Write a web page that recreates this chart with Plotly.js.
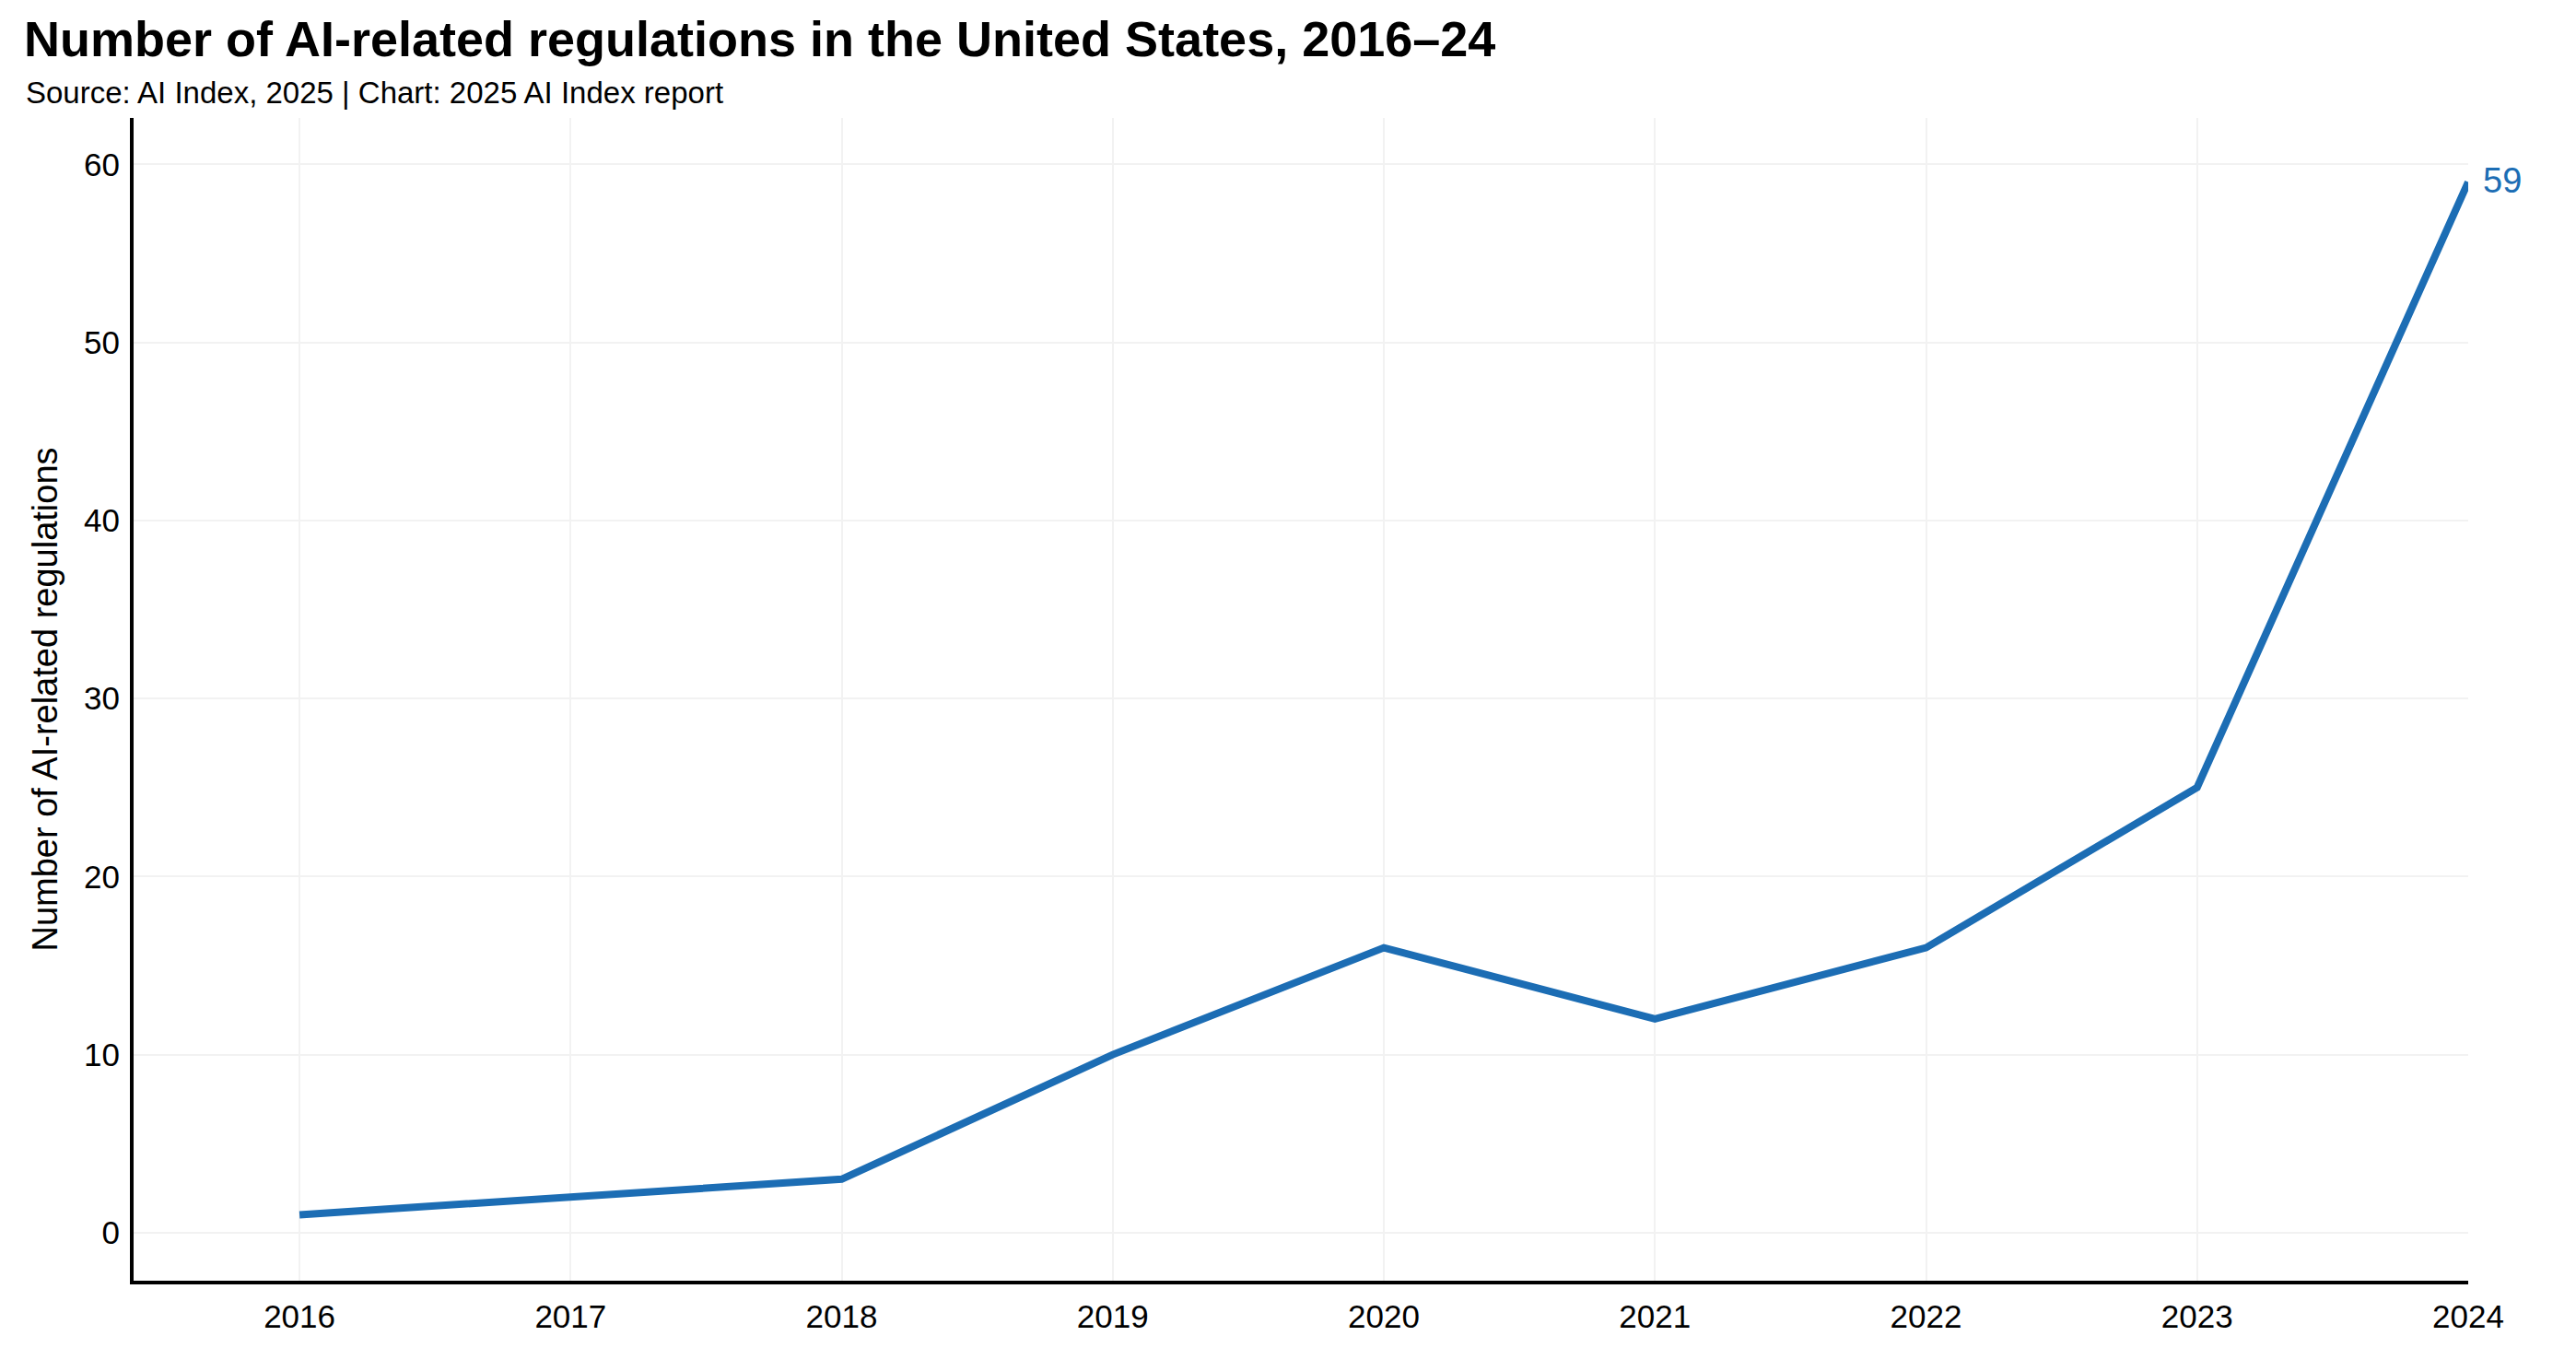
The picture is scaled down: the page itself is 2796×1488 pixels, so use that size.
<!DOCTYPE html>
<html>
<head>
<meta charset="utf-8">
<script src="https://cdn.plot.ly/plotly-3.0.1.min.js"></script>
<style>html,body{margin:0;padding:0;background:#fff;}#chart{width:2796px;height:1488px;}</style>
</head>
<body>
<div id="chart"></div>
<script>
const years = [2016, 2017, 2018, 2019, 2020, 2021, 2022, 2023, 2024];
const regulations = [1, 2, 3, 10, 16, 12, 16, 25, 59];
const yTicks = [0, 10, 20, 30, 40, 50, 60];
const titleText = "Number of AI-related regulations in the United States, 2016–24";
const subtitleText = "Source: AI Index, 2025 | Chart: 2025 AI Index report";
const yTitle = "Number of AI-related regulations";

const FONT = "Liberation Sans, Arial, sans-serif";
const BLUE = "#1c6db4";
const last = years.length - 1;

const W = 2796, H = 1488;
const M = {l: 145, r: 117, t: 128, b: 98};
const plotW = W - M.l - M.r, plotH = H - M.t - M.b;

const trace = {
  x: years, y: regulations, type: "scatter", mode: "lines",
  line: {color: BLUE, width: 8},
  hoverinfo: "skip", showlegend: false, cliponaxis: false
};

const layout = {
  width: W, height: H,
  paper_bgcolor: "#fff", plot_bgcolor: "#fff",
  margin: M,
  font: {family: FONT, color: "#000"},
  title: {
    text: "<b>" + titleText + "</b>",
    font: {family: FONT, size: 54, color: "#000"},
    xref: "container", yref: "container",
    x: 26 / W, xanchor: "left",
    y: 1 - 42 / H, yanchor: "middle"
  },
  xaxis: {
    range: [2015.388, 2024], tickmode: "array", tickvals: years,
    ticktext: years.map(String),
    showgrid: true, gridcolor: "#f2f2f2", gridwidth: 2,
    showline: true, linecolor: "#000", linewidth: 4,
    ticks: "", tickfont: {size: 35, family: FONT},
    ticklabelstandoff: 5, zeroline: false
  },
  yaxis: {
    range: [-2.7, 62.6], tickmode: "array", tickvals: yTicks,
    showgrid: true, gridcolor: "#f2f2f2", gridwidth: 2,
    showline: true, linecolor: "#000", linewidth: 4,
    ticks: "", tickfont: {size: 35, family: FONT},
    ticklabelstandoff: 4, zeroline: false,
    title: {text: yTitle, font: {size: 38, family: FONT}, standoff: 18}
  },
  annotations: [
    {
      text: subtitleText, xref: "paper", yref: "paper",
      x: (26 - M.l) / plotW, y: (H - M.b - 101) / plotH,
      xanchor: "left", yanchor: "middle", showarrow: false,
      font: {size: 33, family: FONT, color: "#000"}
    },
    {
      text: String(regulations[last]), x: years[last], y: regulations[last],
      xref: "x", yref: "y", xanchor: "left", yanchor: "middle",
      xshift: 14, yshift: 2, showarrow: false,
      font: {size: 38, family: FONT, color: BLUE}
    }
  ]
};

Plotly.newPlot("chart", [trace], layout, {displayModeBar: false, staticPlot: true});
</script>
</body>
</html>
